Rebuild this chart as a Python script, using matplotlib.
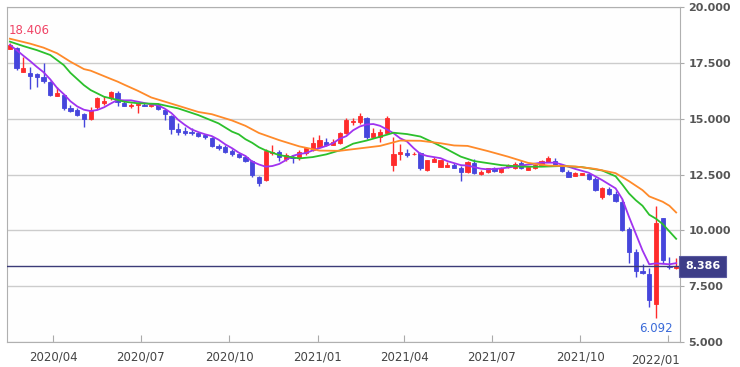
#!/usr/bin/env python3

import numpy as np
import pandas as pd
import matplotlib
matplotlib.use('Agg')
import matplotlib.pyplot as plt
import matplotlib.transforms as mtransforms

# weekly candles
dates = pd.date_range('2020-02-16', periods=100, freq='7D')

opens = [18.12, 18.15, 17.10, 17.03, 16.99, 16.88, 16.66, 16.03, 16.06, 15.49,
         15.39, 15.19, 14.97, 15.54, 15.71, 15.91, 16.13, 15.71, 15.57, 15.60,
         15.63, 15.55, 15.60, 15.39, 15.12, 14.52, 14.45, 14.42, 14.34, 14.27,
         14.12, 13.78, 13.74, 13.56, 13.40, 13.27, 13.12, 12.40, 12.25, 13.45,
         13.52, 13.18, 13.30, 13.22, 13.45, 13.60, 13.74, 13.97, 13.82, 13.90,
         14.34, 14.86, 14.84, 15.01, 14.19, 14.19, 14.34, 12.92, 13.40, 13.45,
         13.40, 13.45, 12.70, 13.07, 12.85, 12.85, 12.92, 12.80, 12.60, 13.00,
         12.51, 12.60, 12.78, 12.62, 12.82, 12.78, 13.00, 12.70, 12.78, 12.92,
         13.07, 13.12, 12.88, 12.62, 12.43, 12.48, 12.52, 12.28, 11.48, 11.84,
         11.63, 11.28, 10.04, 9.04, 8.19, 8.04, 6.70, 10.54, 8.40, 8.30]

highs = [18.406, 18.22, 17.78, 17.33, 17.03, 17.48, 16.70, 16.43, 16.10, 15.60,
         15.50, 15.25, 15.51, 15.95, 16.03, 16.22, 16.25, 15.80, 15.68, 15.68,
         15.68, 15.62, 15.70, 15.45, 15.16, 14.82, 14.64, 14.58, 14.42, 14.32,
         14.20, 13.85, 13.80, 13.62, 13.48, 13.37, 13.15, 12.45, 13.62, 13.82,
         13.60, 13.45, 13.37, 13.60, 13.75, 14.16, 14.27, 14.12, 14.07, 14.40,
         15.01, 15.05, 15.24, 15.08, 14.60, 14.55, 15.12, 14.19, 13.85, 13.63,
         13.52, 13.50, 13.15, 13.30, 13.15, 13.05, 13.00, 12.88, 13.10, 13.20,
         12.68, 12.80, 12.82, 12.85, 12.95, 13.05, 13.15, 12.85, 12.95, 13.15,
         13.33, 13.22, 12.98, 12.68, 12.60, 12.58, 12.56, 12.40, 11.95, 11.95,
         11.75, 11.40, 10.16, 9.15, 8.50, 8.30, 11.09, 10.56, 8.82, 8.75]

lows = [18.10, 17.18, 17.08, 16.31, 16.43, 16.61, 16.00, 16.00, 15.39, 15.30,
        15.10, 14.64, 14.95, 15.45, 15.62, 15.85, 15.55, 15.55, 15.50, 15.24,
        15.55, 15.52, 15.40, 14.94, 14.31, 14.27, 14.27, 14.25, 14.20, 14.10,
        13.72, 13.60, 13.48, 13.35, 13.22, 13.05, 12.40, 11.98, 12.20, 13.37,
        13.10, 13.12, 13.01, 13.15, 13.37, 13.55, 13.70, 13.78, 13.80, 13.85,
        14.30, 14.70, 14.78, 14.10, 14.15, 13.94, 14.30, 12.66, 13.15, 13.30,
        13.37, 12.70, 12.67, 13.05, 12.83, 12.83, 12.78, 12.21, 12.55, 12.52,
        12.48, 12.55, 12.60, 12.58, 12.80, 12.75, 12.75, 12.68, 12.75, 12.90,
        13.05, 12.90, 12.62, 12.38, 12.42, 12.46, 12.25, 11.75, 11.42, 11.58,
        11.28, 9.97, 8.52, 7.90, 8.05, 6.55, 6.092, 8.55, 8.25, 8.28]

closes = [18.30, 17.25, 17.25, 16.92, 16.88, 16.69, 16.06, 16.13, 15.49, 15.36,
          15.16, 14.97, 15.39, 15.91, 15.80, 16.18, 15.76, 15.57, 15.63, 15.66,
          15.57, 15.60, 15.45, 15.21, 14.52, 14.42, 14.38, 14.34, 14.22, 14.18,
          13.79, 13.70, 13.52, 13.42, 13.27, 13.12, 12.48, 12.10, 13.56, 13.52,
          13.27, 13.37, 13.22, 13.52, 13.67, 13.90, 14.04, 13.82, 13.97, 14.34,
          14.94, 14.91, 15.12, 14.19, 14.37, 14.42, 15.04, 13.40, 13.52, 13.37,
          13.42, 12.78, 13.15, 13.19, 13.15, 12.92, 12.80, 12.62, 13.05, 12.58,
          12.62, 12.78, 12.67, 12.78, 12.92, 12.97, 12.78, 12.82, 12.92, 13.12,
          13.22, 12.92, 12.66, 12.40, 12.58, 12.55, 12.28, 11.80, 11.88, 11.63,
          11.33, 10.01, 9.04, 8.19, 8.10, 6.88, 10.34, 8.67, 8.34, 8.386]

# moving averages, read at a subset of weeks
short_idx = [0, 1, 2, 3, 4, 5, 6, 7, 8, 9, 10, 11, 12, 13, 14, 15, 16, 17, 18, 19,
             21, 22, 23, 24, 25, 26, 27, 28, 29, 30, 31, 32, 33, 34, 35, 36, 37, 38,
             39, 40, 41, 42, 43, 44, 45, 46, 47, 48, 49, 50, 51, 52, 53, 54, 55, 56,
             57, 58, 59, 60, 61, 62, 64, 65, 67, 68, 70, 71, 73, 76, 79, 81, 82, 83,
             84, 86, 88, 90, 91, 92, 93, 94, 95, 96, 97, 98, 99]
short_val = [18.30, 18.07, 17.82, 17.58, 17.32, 17.08, 16.76, 16.38, 16.10, 15.78,
             15.55, 15.40, 15.34, 15.39, 15.51, 15.68, 15.84, 15.82, 15.82, 15.76,
             15.64, 15.60, 15.45, 15.25, 14.95, 14.72, 14.52, 14.40, 14.30, 14.22,
             14.06, 13.85, 13.68, 13.48, 13.33, 13.08, 12.95, 12.85, 12.88, 12.97,
             13.14, 13.33, 13.42, 13.46, 13.58, 13.68, 13.78, 13.90, 14.10, 14.22,
             14.48, 14.65, 14.74, 14.76, 14.68, 14.52, 14.35, 14.12, 13.98, 13.68,
             13.42, 13.33, 13.23, 13.10, 12.92, 12.90, 12.76, 12.73, 12.77, 12.90,
             13.03, 13.03, 12.95, 12.85, 12.75, 12.58, 12.25, 11.88, 11.40, 10.60,
             9.85, 9.10, 8.48, 8.52, 8.50, 8.48, 8.53]

mid_idx = [0, 2, 4, 6, 8, 9, 11, 12, 14, 16, 17, 19, 22, 25, 28, 31, 33, 34, 35,
           36, 37, 38, 40, 42, 43, 45, 47, 49, 51, 53, 55, 57, 59, 61, 63, 65, 67,
           69, 73, 76, 79, 82, 85, 88, 89, 90, 91, 92, 93, 94, 95, 96, 97, 98, 99]
mid_val = [18.45, 18.25, 18.07, 17.85, 17.40, 17.05, 16.50, 16.28, 15.98, 15.84,
           15.76, 15.69, 15.66, 15.46, 15.16, 14.79, 14.42, 14.30, 14.08, 13.92,
           13.72, 13.58, 13.37, 13.27, 13.22, 13.28, 13.40, 13.58, 13.88, 14.02,
           14.19, 14.37, 14.31, 14.20, 13.92, 13.62, 13.30, 13.10, 12.92, 12.85,
           12.85, 12.88, 12.83, 12.68, 12.55, 12.42, 12.05, 11.65, 11.35, 11.10,
           10.70, 10.52, 10.28, 9.95, 9.62]

long_idx = [0, 3, 5, 7, 9, 11, 12, 15, 16, 17, 19, 21, 25, 28, 30, 33, 34, 35, 37,
            40, 43, 46, 49, 52, 55, 57, 58, 61, 64, 66, 68, 71, 74, 77, 80, 84, 87,
            90, 92, 94, 95, 96, 97, 98, 99]
long_val = [18.58, 18.36, 18.18, 17.93, 17.55, 17.22, 17.15, 16.78, 16.66, 16.52,
            16.25, 15.95, 15.58, 15.30, 15.20, 14.92, 14.80, 14.68, 14.36, 14.04,
            13.76, 13.57, 13.56, 13.67, 13.78, 13.94, 14.02, 14.01, 13.90, 13.80,
            13.78, 13.55, 13.30, 13.02, 12.90, 12.86, 12.75, 12.56, 12.20, 11.80,
            11.52, 11.40, 11.28, 11.10, 10.80]

last_price = 8.386
y_ticks = [5.0, 7.5, 10.0, 12.5, 15.0, 17.5, 20.0]
x_ticks = ['2020-04-01', '2020-07-01', '2020-10-01', '2021-01-01',
           '2021-04-01', '2021-07-01', '2021-10-01', '2022-01-01']

UP = '#ff2b2b'
DOWN = '#4646dc'


def plot(out):
    fig = plt.figure(figsize=(7.4, 3.67), dpi=100)
    ax = fig.add_axes([7 / 740, 25 / 367, 673 / 740, 335 / 367])

    o = np.array(opens)
    c = np.array(closes)
    up = c >= o
    colors = np.where(up, UP, DOWN)

    # wicks and bodies
    ax.vlines(dates, lows, highs, colors=colors, lw=1, zorder=3)
    ax.bar(dates, np.abs(c - o), bottom=np.minimum(o, c), width=4.4,
           color=colors, edgecolor=colors, lw=0.6, zorder=4)

    # moving averages
    ax.plot(dates[short_idx], short_val, color='#a033f0', lw=1.3, zorder=5)
    ax.plot(dates[mid_idx], mid_val, color='#2cc02c', lw=1.3, zorder=5)
    ax.plot(dates[long_idx], long_val, color='#ff8a2a', lw=1.3, zorder=5)

    # last price line + label box
    ax.axhline(last_price, color='#3b3b78', lw=1, zorder=6)
    trans = mtransforms.blended_transform_factory(ax.transAxes, ax.transData)
    ax.text(1.0 + 5 / 673, last_price, f'{last_price:.3f}', transform=trans,
            ha='left', va='center', color='white', fontsize=8, fontweight='bold',
            bbox=dict(boxstyle='square,pad=0.5', fc='#3d3d88', ec='#5a5aa0', lw=0.8),
            clip_on=False, zorder=10)

    # high / low labels
    i_hi = int(np.argmax(highs))
    i_lo = int(np.argmin(lows))
    ax.annotate(f'{highs[i_hi]:.3f}', xy=(dates[i_hi], highs[i_hi]),
                xytext=(-1, 4), textcoords='offset points',
                ha='left', va='bottom', color='#f04466', fontsize=8.5)
    ax.annotate(f'{lows[i_lo]:.3f}', xy=(dates[i_lo], lows[i_lo]),
                xytext=(0, -3), textcoords='offset points',
                ha='center', va='top', color='#3a6ad8', fontsize=8.5)

    # axes
    ax.set_ylim(5, 20)
    ax.set_xlim(pd.Timestamp('2020-02-13'), pd.Timestamp('2022-01-13'))
    ax.yaxis.tick_right()
    ax.set_yticks(y_ticks)
    ax.set_yticklabels([f'{v:.3f}' for v in y_ticks], fontsize=8,
                       fontweight='bold', color='#555555')
    ax.tick_params(axis='y', length=3, pad=3, color='#aaaaaa')

    xt = pd.to_datetime(x_ticks)
    ax.set_xticks(xt)
    labels = [d.strftime('%Y/%m') for d in xt]
    ax.set_xticklabels(labels[:-1] + [''], fontsize=8.5, color='#444444')
    ax.tick_params(axis='x', direction='in', length=5, pad=6, color='#aaaaaa')
    ax.text(1.0, -0.035, labels[-1], transform=ax.transAxes, ha='right',
            va='top', fontsize=8.5, color='#444444')

    ax.grid(axis='y', color='#cccccc', lw=1)
    ax.set_axisbelow(True)
    for s in ax.spines.values():
        s.set_color('#b0b0b0')
    ax.set_facecolor('#fefefe')

    fig.savefig(out, dpi=100)


def main():
    plot('out.png')


if __name__ == '__main__':
    main()
